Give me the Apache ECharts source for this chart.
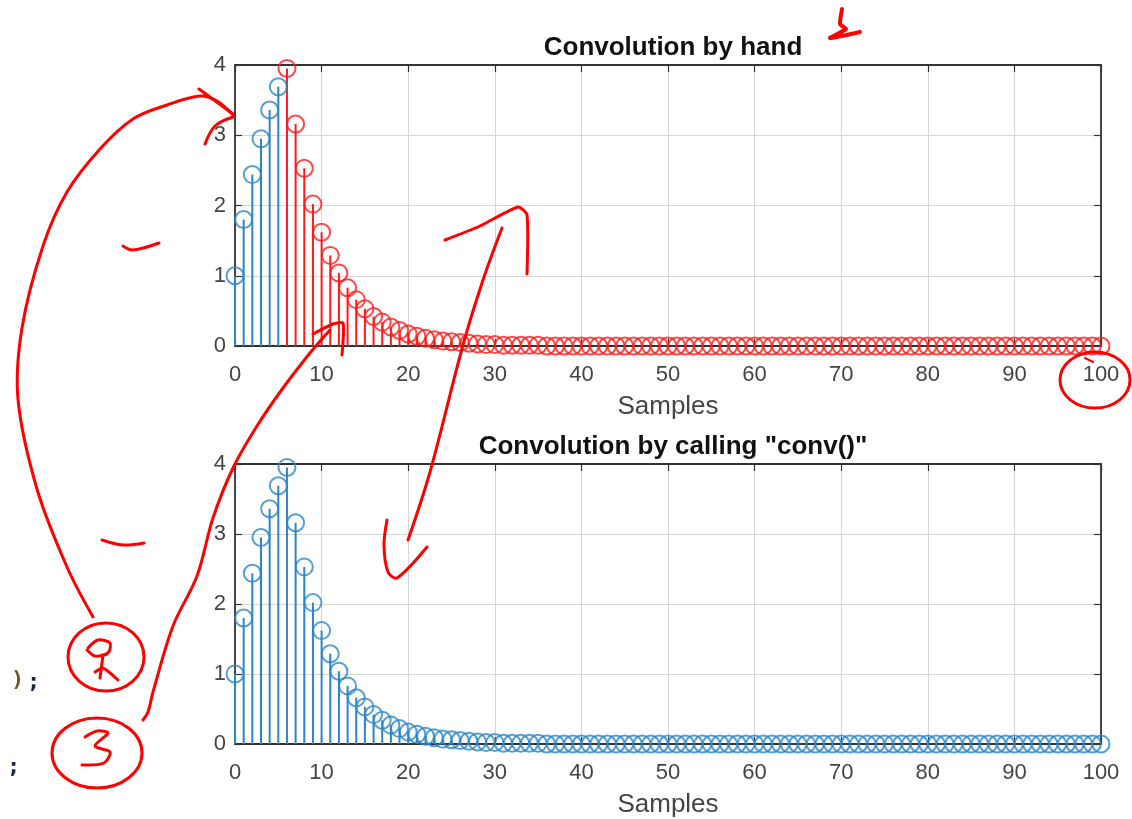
<!DOCTYPE html>
<html>
<head>
<meta charset="utf-8">
<script src="https://cdn.jsdelivr.net/npm/echarts@6/dist/echarts.min.js"></script>
<style>
  html, body { margin: 0; padding: 0; background: #fff; }
  #chart { width: 1132px; height: 819px; }
</style>
</head>
<body>
<div id="chart"></div>
<script>
// output samples n = 0..100 (same result in both panels)
const convValues = [
  1.00, 1.80, 2.44, 2.95, 3.36, 3.69, 3.95, 3.16, 2.53, 2.02,
  1.62, 1.29, 1.04, 0.83, 0.66, 0.53, 0.42, 0.34, 0.27, 0.22,
  0.17, 0.14, 0.11, 0.09, 0.07, 0.06, 0.05, 0.04, 0.03, 0.02,
  0.02, 0.01, 0.01, 0.01, 0.01, 0.01, 0, 0, 0, 0,
  0, 0, 0, 0, 0, 0, 0, 0, 0, 0,
  0, 0, 0, 0, 0, 0, 0, 0, 0, 0,
  0, 0, 0, 0, 0, 0, 0, 0, 0, 0,
  0, 0, 0, 0, 0, 0, 0, 0, 0, 0,
  0, 0, 0, 0, 0, 0, 0, 0, 0, 0,
  0, 0, 0, 0, 0, 0, 0, 0, 0, 0,
  0
];
// the hand-made loop is drawn blue for the first samples, red after
const handBlueCount = 6;
const xTicks = [0, 10, 20, 30, 40, 50, 60, 70, 80, 90, 100];
const yTicks = [0, 1, 2, 3, 4];
const titles = ["Convolution by hand", 'Convolution by calling "conv()"'];
const xName = "Samples";

const BLUE = "#2a86c8";
const RED = "#ff1a1a";
const INK = "#f00";

const pts = convValues.map((v, i) => [i, v]);
const handBlue = pts.slice(0, handBlueCount);
const handRed = pts.slice(handBlueCount);

const chart = echarts.init(document.getElementById("chart"), null, { renderer: "canvas" });

const grids = [
  { left: 235, top: 65, width: 866, height: 281 },
  { left: 235, top: 464, width: 866, height: 280 },
];

const xMin = xTicks[0], xMax = xTicks[xTicks.length - 1], xStep = xTicks[1] - xTicks[0];
const yMin = yTicks[0], yMax = yTicks[yTicks.length - 1], yStep = yTicks[1] - yTicks[0];

const axisLine = { show: true, onZero: false, lineStyle: { color: "#333", width: 1.8 } };
const tick = { show: true, inside: true, length: 7, lineStyle: { color: "#333", width: 1.2 } };
const gridLine = { show: true, lineStyle: { color: "#d6d6d6", width: 1 } };
const font = "Liberation Sans";

const xAxes = [], yAxes = [];
grids.forEach((g, gi) => {
  xAxes.push({
    type: "value", gridIndex: gi, position: "bottom", min: xMin, max: xMax, interval: xStep,
    axisLine, axisTick: tick, splitLine: gridLine,
    axisLabel: { color: "#444", fontSize: 22, fontFamily: font, margin: 18 },
    name: xName, nameLocation: "middle", nameGap: 48,
    nameTextStyle: { color: "#444", fontSize: 26, fontFamily: font },
  });
  xAxes.push({
    type: "value", gridIndex: gi, position: "top", min: xMin, max: xMax, interval: xStep,
    axisLine, axisTick: tick, axisLabel: { show: false }, splitLine: { show: false },
  });
  yAxes.push({
    type: "value", gridIndex: gi, position: "left", min: yMin, max: yMax, interval: yStep,
    axisLine, axisTick: tick, splitLine: gridLine,
    axisLabel: { color: "#444", fontSize: 22, fontFamily: font, margin: 9 },
  });
  yAxes.push({
    type: "value", gridIndex: gi, position: "right", min: yMin, max: yMax, interval: yStep,
    axisLine, axisTick: tick, axisLabel: { show: false }, splitLine: { show: false },
  });
});

function stems(data, color, gi) {
  return {
    type: "custom", xAxisIndex: gi * 2, yAxisIndex: gi * 2, data, z: 3, clip: false,
    renderItem(params, api) {
      const a = api.coord([api.value(0), 0]);
      const b = api.coord([api.value(0), api.value(1)]);
      return { type: "line", shape: { x1: a[0], y1: a[1], x2: b[0], y2: b[1] },
               style: { stroke: color, lineWidth: 2 } };
    },
  };
}
function markers(data, color, gi) {
  return {
    type: "scatter", xAxisIndex: gi * 2, yAxisIndex: gi * 2, data, z: 4, clip: false,
    symbol: "circle", symbolSize: 17, silent: true,
    itemStyle: { color: "rgba(0,0,0,0)", borderColor: color, borderWidth: 2 },
  };
}

// red pen scribbles laid over the screenshot
function pen(points, w, smooth) {
  return { type: "polyline", z: 100, shape: { points, smooth: smooth == null ? 0.35 : smooth },
           style: { stroke: INK, fill: null, lineWidth: w || 3, lineCap: "round", lineJoin: "round" } };
}
function ring(cx, cy, rx, ry) {
  return { type: "ellipse", z: 100, shape: { cx, cy, rx, ry },
           style: { stroke: INK, fill: null, lineWidth: 3 } };
}
const scribbles = [
  pen([[93,617],[67,567],[37,489],[18,399],[22,328],[43,246],[67,192],[100,149],[133,119],[167,105],[200,96],[217,101],[233,115]]),
  pen([[199,89],[233,114]], 3, 0),
  pen([[205,144],[215,126],[233,117]]),
  pen([[123,246],[133,250],[159,243]]),
  pen([[102,540],[123,545],[144,543]]),
  pen([[143,720],[148,712],[153,692],[173,626],[197,576],[213,518],[233,468],[257,426],[283,388],[310,353],[330,330]]),
  pen([[313,334],[333,324],[343,323],[342,355]], 3, 0.2),
  pen([[408,540],[430,472],[463,345],[483,280],[502,228]]),
  pen([[445,240],[480,226],[518,207],[527,215],[527,274]], 3, 0.2),
  pen([[387,520],[384,545],[388,572],[397,578],[427,547]], 3, 0.3),
  pen([[842,9],[840,24],[846,29],[830,38],[860,32]], 4, 0.15),
  ring(1095, 380, 35, 28),
  pen([[1085,358],[1093,362]], 2, 0),
  ring(106, 657, 38, 34),
  pen([[88,648],[98,640],[110,643],[108,653],[95,656],[87,650]], 3, 0.3),
  pen([[103,655],[100,678]], 3, 0),
  pen([[95,672],[103,668],[118,680]], 3, 0.2),
  ring(97, 753, 45, 35),
  pen([[85,737],[97,731],[108,733],[95,746],[110,752],[104,763],[82,765]], 3, 0.3),
  { type: "text", z: 100, x: 11, y: 680, style: { text: ")", fill: "#6b5a2a", font: "bold 22px 'DejaVu Sans Mono'", verticalAlign: "middle" } },
  { type: "text", z: 100, x: 27, y: 682, style: { text: ";", fill: "#1c2448", font: "bold 22px 'DejaVu Sans Mono'", verticalAlign: "middle" } },
  { type: "text", z: 100, x: 7, y: 767, style: { text: ";", fill: "#1c2448", font: "bold 22px 'DejaVu Sans Mono'", verticalAlign: "middle" } },
];

chart.setOption({
  animation: false,
  backgroundColor: "#fff",
  title: titles.map((t, i) => ({
    text: t, left: grids[i].left + grids[i].width / 2, textAlign: "center",
    top: i === 0 ? 30 : 429,
    textStyle: { color: "#111", fontSize: 26, fontWeight: "bold", fontFamily: font },
  })),
  grid: grids,
  xAxis: xAxes,
  yAxis: yAxes,
  series: [
    stems(handBlue, BLUE, 0),
    stems(handRed, RED, 0),
    markers(handBlue, BLUE, 0),
    markers(handRed, RED, 0),
    stems(pts, BLUE, 1),
    markers(pts, BLUE, 1),
  ],
  graphic: scribbles,
});
</script>
</body>
</html>
